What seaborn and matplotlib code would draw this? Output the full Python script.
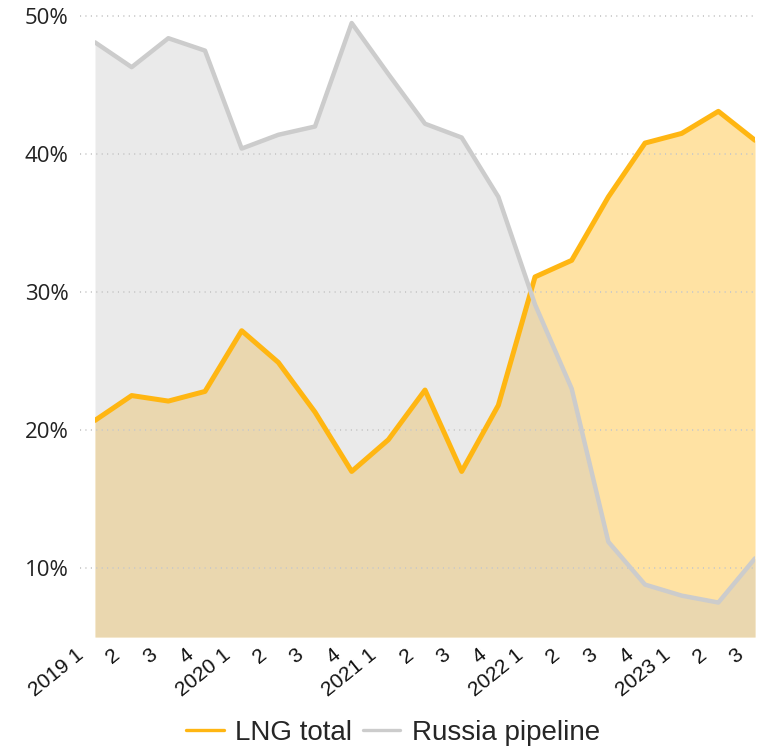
import numpy as np
import pandas as pd
import matplotlib
matplotlib.use("Agg")
import matplotlib.pyplot as plt
import matplotlib.transforms as mtransforms
import seaborn as sns

# quarters 2019 Q1 .. 2023 Q3
quarters = ["2019 1", "2", "3", "4", "2020 1", "2", "3", "4", "2021 1", "2", "3", "4",
            "2022 1", "2", "3", "4", "2023 1", "2", "3"]
lng_total = [20.7, 22.5, 22.1, 22.8, 27.2, 24.9, 21.3, 17.0, 19.3, 22.9, 17.0, 21.8,
             31.1, 32.3, 36.9, 40.8, 41.5, 43.1, 41.0]
russia_pipeline = [48.1, 46.3, 48.4, 47.5, 40.4, 41.4, 42.0, 49.5, 45.8, 42.2, 41.2, 36.9,
                   29.1, 23.0, 11.9, 8.8, 8.0, 7.5, 10.7]
yticks = [10, 20, 30, 40, 50]

df = pd.DataFrame({"idx": np.arange(len(quarters)), "lng": lng_total, "russia": russia_pipeline})

sns.set_style("white")
plt.rcParams["font.family"] = ["Open Sans", "DejaVu Sans"]

fig = plt.figure(figsize=(7.57, 7.49), dpi=100)
ax = fig.add_axes([0.1255, 0.1495, 0.8719, 0.8345])

orange = "#FFB612"
grey = "#CCCCCC"
ybot = 5

ax.fill_between(df["idx"], ybot, df["lng"], color=orange, alpha=0.39, linewidth=0, zorder=1)
ax.fill_between(df["idx"], ybot, df["russia"], color="#C6C6C6", alpha=0.37, linewidth=0, zorder=1.2)

# dotted grid, starting a bit left of the plot area
for y in yticks:
    ax.plot([-0.42, 18], [y, y], color="#C8C8C8", linestyle=(0, (0.6, 2.4)),
            linewidth=1.3, clip_on=False, zorder=1.5)

sns.lineplot(data=df, x="idx", y="lng", ax=ax, color=orange, linewidth=3.6,
             label="LNG total", legend=False, zorder=3)
sns.lineplot(data=df, x="idx", y="russia", ax=ax, color=grey, linewidth=3.2,
             label="Russia pipeline", legend=False, zorder=4)

ax.set_xlim(0, 18)
ax.set_ylim(ybot, 50.3)
ax.set_xlabel("")
ax.set_ylabel("")
sns.despine(ax=ax, left=True, bottom=True)

ax.set_yticks(yticks)
ax.set_yticklabels([f"{v}%" for v in yticks], fontsize=16, color="#222222")
ax.tick_params(axis="y", length=0, pad=19)

ax.set_xticks(df["idx"])
ax.set_xticklabels(quarters, fontsize=15, rotation=39, ha="right",
                   family="Liberation Sans", color="#111111")
ax.tick_params(axis="x", length=0, pad=6)
shift = mtransforms.ScaledTranslation(-8 / 100, 0, fig.dpi_scale_trans)
for lab in ax.get_xticklabels():
    lab.set_transform(lab.get_transform() + shift)

handles, labels = ax.get_legend_handles_labels()
leg = fig.legend(handles, labels, loc="center", bbox_to_anchor=(393 / 757, 16 / 749),
                 ncol=2, frameon=False, handlelength=1.35, handletextpad=0.4,
                 columnspacing=0.4, prop={"family": "Liberation Sans", "size": 20})
for ln in leg.get_lines():
    ln.set_linewidth(2.4)

fig.savefig("out.png", dpi=100)
